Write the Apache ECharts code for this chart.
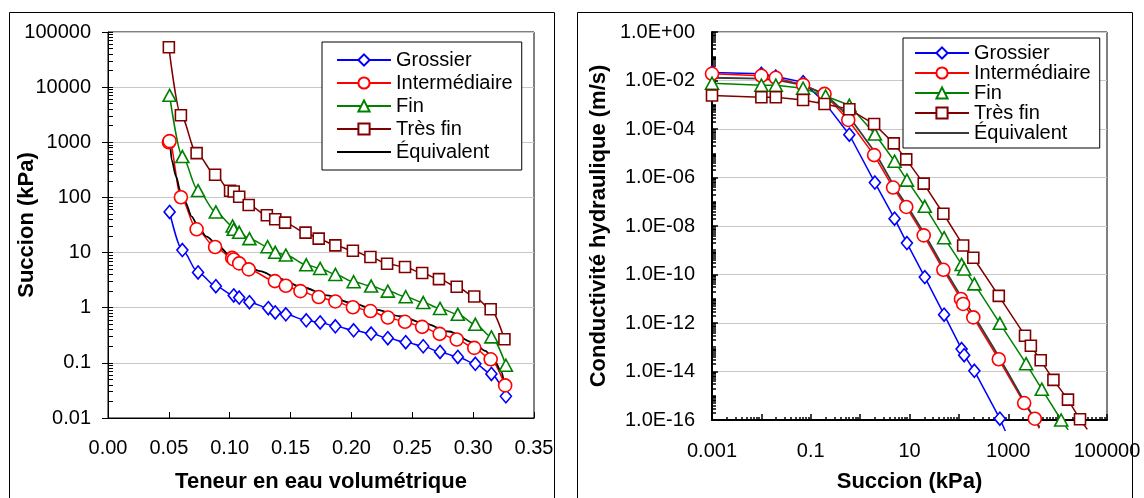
<!DOCTYPE html>
<html><head><meta charset="utf-8">
<script src="https://cdn.jsdelivr.net/npm/echarts@6/dist/echarts.min.js"></script>
<style>html,body{margin:0;padding:0;background:#fff}#c{width:1144px;height:498px}</style>
</head><body><div id="c"></div>
<script>
// ---------- names ----------
const seriesNames = ['Grossier', 'Intermédiaire', 'Fin', 'Très fin', 'Équivalent'];

// ---------- left chart: water content vs suction ----------
const thetaGrossier = [0.0506,0.0611,0.0740,0.0886,0.1033,0.1078,0.1162,0.1317,0.1374,0.1461,0.1629,0.1743,0.1868,0.2018,0.2162,0.2299,0.2446,0.2590,0.2728,0.2874,0.3018,0.3150,0.3269];
const psiGrossier   = [54.5,11.1,4.37,2.46,1.67,1.53,1.26,0.98,0.82,0.76,0.59,0.54,0.46,0.39,0.34,0.28,0.237,0.200,0.158,0.128,0.096,0.063,0.0248];

const thetaInter = [0.0500,0.0506,0.0599,0.0728,0.0880,0.1020,0.1033,0.1078,0.1156,0.1371,0.1461,0.1581,0.1731,0.1868,0.2012,0.2156,0.2299,0.2440,0.2581,0.2725,0.2865,0.3009,0.3144,0.3263];
const psiInter   = [1000,1050,100.7,26.4,12.6,8.0,7.5,6.36,4.95,3.04,2.50,2.00,1.56,1.30,1.02,0.87,0.665,0.555,0.45,0.336,0.265,0.187,0.116,0.039];

const thetaFin = [0.0506,0.0611,0.0740,0.0886,0.1024,0.1033,0.1078,0.1162,0.1311,0.1374,0.1461,0.1629,0.1743,0.1868,0.2018,0.2162,0.2299,0.2446,0.2590,0.2728,0.2874,0.3018,0.3150,0.3269];
const psiFin   = [7100,551,133,54.5,30.3,26.4,23.3,17.9,12.8,10.1,9.0,6.0,5.16,4.02,2.96,2.47,2.0,1.58,1.24,0.97,0.76,0.50,0.296,0.0906];

const thetaTresFin = [0.0500,0.0599,0.0728,0.0880,0.1003,0.1033,0.1078,0.1156,0.1305,0.1374,0.1455,0.1623,0.1731,0.1868,0.2012,0.2156,0.2293,0.2440,0.2581,0.2719,0.2865,0.3009,0.3144,0.3257];
const psiTresFin   = [53000,3100,635,257,132,128,103,73,47.4,40.1,34.9,23.0,17.9,13.5,10.8,8.3,6.28,5.46,4.25,3.30,2.40,1.60,0.94,0.268];

const thetaEquiv = [0.0510,0.0523,0.0559,0.0592,0.0633,0.0688,0.0740,0.0810,0.0900,0.1000,0.1100,0.1250,0.1400,0.1600,0.1800,0.2000,0.2200,0.2400,0.2600,0.2800,0.3000,0.3100,0.3180,0.3230,0.3255];
const psiEquiv   = [1050,480,240,136,84,45,29.5,19.5,13.7,9.0,6.8,4.6,3.4,2.35,1.68,1.22,0.92,0.70,0.52,0.37,0.235,0.165,0.105,0.07,0.043];

const leftXTickLabels = ['0.00','0.05','0.10','0.15','0.20','0.25','0.30','0.35'];
const leftYTickValues = [0.01,0.1,1,10,100,1000,10000,100000];
const leftYTickLabels = ['0.01','0.1','1','10','100','1000','10000','100000'];

// ---------- right chart: suction vs hydraulic conductivity ----------
const sucGrossier = [0.001,0.01,0.0196,0.070,0.185,0.605,1.99,4.98,8.87,20.4,50.2,113.6,128,206,676,873];
const kGrossier   = [0.0214,0.0189,0.0146,0.0085,0.00135,5.8e-5,6.2e-7,2.0e-8,1.98e-9,7.8e-11,2.2e-12,8.4e-14,4.7e-14,1.07e-14,1.13e-16,3.5e-17];

const sucInter = [0.001,0.01,0.0196,0.070,0.19,0.575,1.92,4.65,8.59,19.4,48.5,110,122,196,643,2100,3450,4260];
const kInter   = [0.0189,0.0156,0.0129,0.0066,0.0028,2.36e-4,8.4e-6,3.85e-7,6.1e-8,4.1e-9,1.56e-10,9.8e-12,6.1e-12,1.7e-12,3.2e-14,5.0e-16,1.13e-16,4.5e-17];

const sucFin = [0.001,0.01,0.0196,0.070,0.2,0.605,1.99,4.98,8.87,20.4,50.2,113.6,128,206,676,2300,4780,11800,16400];
const kFin   = [0.00776,0.0064,0.0064,0.0048,0.0023,9.5e-4,6.2e-5,4.7e-6,7.8e-7,6.5e-8,3.3e-9,2.6e-10,1.7e-10,4.1e-11,9.7e-13,2.1e-14,1.86e-15,1.0e-16,3.9e-17];

const sucTresFin = [0.001,0.01,0.0196,0.070,0.19,0.605,1.92,4.8,8.59,19.4,48.5,122,196,643,2185,2870,4540,8220,16200,28400,39900];
const kTresFin   = [0.00239,0.00204,0.00204,0.00158,0.00108,6.5e-4,1.6e-4,2.55e-5,5.6e-6,5.6e-7,3.2e-8,1.58e-9,4.9e-10,1.31e-11,3.0e-13,1.15e-13,2.9e-14,4.5e-15,6.9e-16,1.07e-16,4.1e-17];

const sucEquiv = [0.001,0.01,0.02,0.07,0.2,0.6,2,5,10,20,50,100,200,500,1000,2000,4300];
const kEquiv   = [0.013,0.012,0.0105,0.0065,0.0026,3.2e-4,1.1e-5,4.0e-7,4.8e-8,4.8e-9,1.8e-10,1.75e-11,2.1e-12,9.7e-14,8.6e-15,7.0e-16,5.0e-17];

const rightXTickValues = [0.001,0.1,10,1000,100000];
const rightXTickLabels = ['0.001','0.1','10','1000','100000'];
const rightYTickValues = [1e-16,1e-14,1e-12,1e-10,1e-8,1e-6,1e-4,1e-2,1];
const rightYTickLabels = ['1.0E-16','1.0E-14','1.0E-12','1.0E-10','1.0E-08','1.0E-06','1.0E-04','1.0E-02','1.0E+00'];

// ---------- styles ----------
const FONT = '"Liberation Sans", Arial, sans-serif';
const colors = ['#0000FF', '#FF0000', '#008000', '#800000', '#000000'];
const colorEquivRight = '#3a3a3a';
const symbols = ['diamond', 'circle', 'triangle', 'rect', 'none'];
const symbolSizes = [[11, 13], 13, [13, 12], 11, 0];

function decadeTicks(minExp, maxExp, withMinor) {
  const out = [];
  for (let e = minExp; e < maxExp; e++) {
    const top = withMinor ? 9 : 1;
    for (let m = 1; m <= top; m++) out.push(Number((m * Math.pow(10, e)).toPrecision(6)));
  }
  out.push(Math.pow(10, maxExp));
  return out;
}
function labelFromList(values, labels) {
  return function (v) {
    for (let i = 0; i < values.length; i++) {
      if (Math.abs(Math.log10(v) - Math.log10(values[i])) < 1e-6) return labels[i];
    }
    return '';
  };
}
function zip(a, b) { return a.map((x, i) => [x, b[i]]); }

const tickLabelStyle = { fontSize: 20, color: '#000', fontFamily: FONT };
const nameStyle = { fontSize: 22, fontWeight: 'bold', color: '#000', fontFamily: FONT };

const leftData = [[thetaGrossier, psiGrossier], [thetaInter, psiInter], [thetaFin, psiFin], [thetaTresFin, psiTresFin], [thetaEquiv, psiEquiv]];
const rightData = [[sucGrossier, kGrossier], [sucInter, kInter], [sucFin, kFin], [sucTresFin, kTresFin], [sucEquiv, kEquiv]];

const series = [];
seriesNames.forEach((n, i) => {
  const isEq = i === 4;
  series.push({
    name: 'L:' + n, type: 'line', xAxisIndex: 0, yAxisIndex: 0,
    data: zip(leftData[i][0], leftData[i][1]),
    smooth: 0.3, smoothMonotone: 'x',
    symbol: symbols[i], symbolSize: symbolSizes[i], showSymbol: !isEq,
    lineStyle: { color: colors[i], width: isEq ? 1.8 : 1.5 },
    itemStyle: { color: isEq ? colors[i] : '#fff', borderColor: colors[i], borderWidth: 1.6 },
    emphasis: { disabled: true }, silent: true, z: 2
  });
});
seriesNames.forEach((n, i) => {
  const isEq = i === 4;
  const col = isEq ? colorEquivRight : colors[i];
  const xs = rightData[i][0], ys = rightData[i][1];
  const data = xs.map((x, j) => {
    // last point of each marked series continues the line just below the axis
    if (j === xs.length - 1 && !isEq) return { value: [x, ys[j]], symbol: 'none' };
    return [x, ys[j]];
  });
  series.push({
    name: 'R:' + n, type: 'line', xAxisIndex: 1, yAxisIndex: 2,
    data: data, clip: false,
    symbol: symbols[i], symbolSize: symbolSizes[i], showSymbol: !isEq,
    lineStyle: { color: col, width: isEq ? 1.8 : 1.5 },
    itemStyle: { color: isEq ? col : '#fff', borderColor: col, borderWidth: 1.6 },
    emphasis: { disabled: true }, silent: true, z: 2
  });
});

function legendData(prefix) {
  return seriesNames.map((n, i) => i === 4
    ? { name: prefix + n, itemStyle: { color: 'rgba(0,0,0,0)', borderColor: 'rgba(0,0,0,0)', opacity: 0 } }
    : { name: prefix + n });
}
const legendCommon = {
  orient: 'vertical', itemWidth: 54, itemHeight: 14, selectedMode: false,
  borderColor: '#000', borderWidth: 1, backgroundColor: '#fff', borderRadius: 0,
  textStyle: { fontSize: 20, lineHeight: 20, color: '#000', fontFamily: FONT },
  formatter: function (n) { return n.slice(2); }
};

const option = {
  animation: false,
  backgroundColor: '#fff',
  textStyle: { fontFamily: FONT },
  grid: [
    { left: 108, top: 32, width: 426, height: 386, show: true, borderColor: '#000', borderWidth: 1, backgroundColor: 'transparent' },
    { left: 712, top: 32, width: 395, height: 388, show: true, borderColor: '#000', borderWidth: 1, backgroundColor: 'transparent' }
  ],
  xAxis: [
    { gridIndex: 0, type: 'value', min: 0, max: 0.35, interval: 0.05,
      axisLine: { show: true, lineStyle: { color: '#000', width: 1 } },
      axisTick: { show: true, inside: true, length: 6, lineStyle: { color: '#000' } },
      axisLabel: Object.assign({ margin: 20, formatter: v => leftXTickLabels[Math.round(v / 0.05)] }, tickLabelStyle),
      splitLine: { show: false },
      name: 'Teneur en eau volumétrique', nameLocation: 'middle', nameGap: 53, nameMoveOverlap: false, nameTextStyle: nameStyle },
    { gridIndex: 1, type: 'log', logBase: 10, min: 0.001, max: 100000,
      axisLine: { show: true, lineStyle: { color: '#000', width: 2 } },
      axisTick: { show: true, inside: true, length: 6, customValues: decadeTicks(-3, 5, false), lineStyle: { color: '#000', width: 1.5 } },
      axisLabel: Object.assign({ margin: 21, customValues: rightXTickValues, formatter: labelFromList(rightXTickValues, rightXTickLabels) }, tickLabelStyle),
      splitLine: { show: false },
      name: 'Succion (kPa)', nameLocation: 'middle', nameGap: 51, nameMoveOverlap: false, nameTextStyle: nameStyle },
    { gridIndex: 1, type: 'log', logBase: 10, min: 0.001, max: 100000, position: 'bottom',
      axisLine: { show: false }, axisLabel: { show: false }, splitLine: { show: false },
      axisTick: { show: true, inside: true, length: 3, customValues: decadeTicks(-3, 5, true), lineStyle: { color: '#000', width: 1.5 } } }
  ],
  yAxis: [
    { gridIndex: 0, type: 'log', logBase: 10, min: 0.01, max: 100000,
      axisLine: { show: true, lineStyle: { color: '#000', width: 1 } },
      axisTick: { show: true, inside: false, length: 6, customValues: leftYTickValues, lineStyle: { color: '#000' } },
      axisLabel: Object.assign({ margin: 17, customValues: leftYTickValues, formatter: labelFromList(leftYTickValues, leftYTickLabels) }, tickLabelStyle),
      splitLine: { show: true, lineStyle: { color: '#c8c8c8', width: 1 } },
      name: 'Succion (kPa)', nameLocation: 'middle', nameGap: 70, nameMoveOverlap: false, nameTextStyle: nameStyle },
    { gridIndex: 0, type: 'log', logBase: 10, min: 0.01, max: 100000, position: 'left',
      axisLine: { show: false }, axisLabel: { show: false }, splitLine: { show: false },
      axisTick: { show: true, inside: true, length: 5, customValues: decadeTicks(-2, 5, true), lineStyle: { color: '#000' } } },
    { gridIndex: 1, type: 'log', logBase: 10, min: 1e-16, max: 1,
      axisLine: { show: true, lineStyle: { color: '#000', width: 2 } },
      axisTick: { show: true, inside: true, length: 6, customValues: rightYTickValues, lineStyle: { color: '#000', width: 1.5 } },
      axisLabel: Object.assign({ margin: 17, customValues: rightYTickValues, formatter: labelFromList(rightYTickValues, rightYTickLabels) }, tickLabelStyle),
      splitLine: { show: true, lineStyle: { color: '#c8c8c8', width: 1 } },
      name: 'Conductivité hydraulique (m/s)', nameLocation: 'middle', nameGap: 102, nameMoveOverlap: false, nameTextStyle: nameStyle },
    { gridIndex: 1, type: 'log', logBase: 10, min: 1e-16, max: 1, position: 'left',
      axisLine: { show: false }, axisLabel: { show: false }, splitLine: { show: false },
      axisTick: { show: true, inside: true, length: 4, customValues: decadeTicks(-16, 0, true), lineStyle: { color: '#000', width: 1.5 } } }
  ],
  legend: [
    Object.assign({ data: legendData('L:'), left: 322, top: 42, padding: [8, 9, 8, 14], itemGap: 3 }, legendCommon),
    Object.assign({ data: legendData('R:'), left: 903, top: 38, padding: [5, 9, 5, 11], itemGap: 0 }, legendCommon)
  ],
  graphic: [
    { type: 'rect', shape: { x: 9.5, y: 12.5, width: 545, height: 520 }, style: { fill: 'none', stroke: '#000', lineWidth: 1 }, silent: true, z: 100 },
    { type: 'rect', shape: { x: 577.5, y: 12.5, width: 555, height: 520 }, style: { fill: 'none', stroke: '#000', lineWidth: 1 }, silent: true, z: 100 }
  ],
  series: series
};

const chart = echarts.init(document.getElementById('c'), null, { renderer: 'canvas' });
chart.setOption(option);
</script>
</body></html>
